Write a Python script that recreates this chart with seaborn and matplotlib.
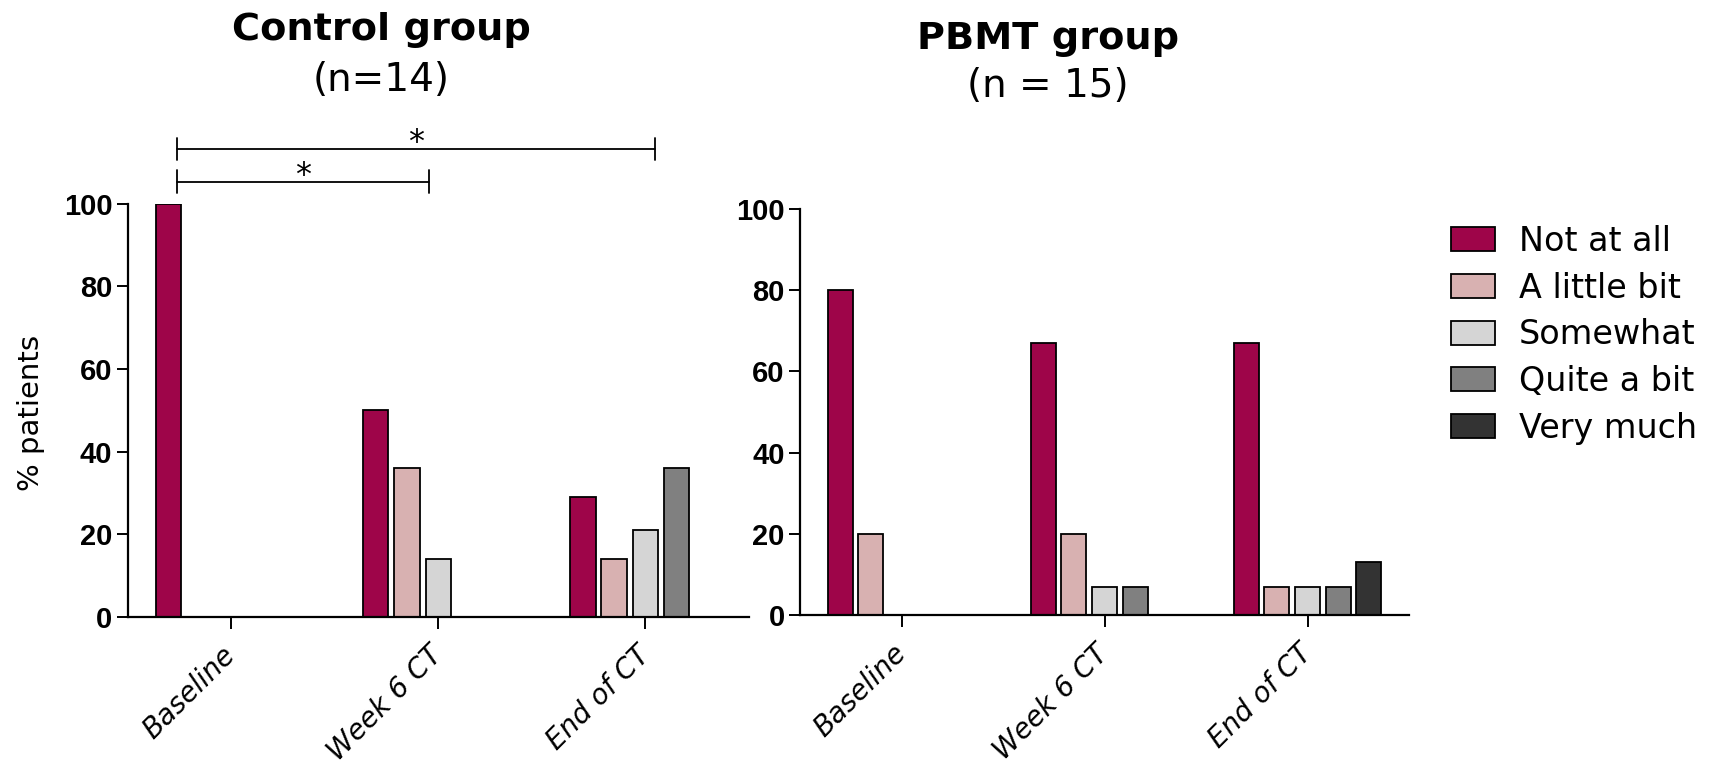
import pandas as pd
import matplotlib.pyplot as plt
import seaborn as sns

# categories
times = ['Baseline', 'Week 6 CT', 'End of CT']
responses = ['Not at all', 'A little bit', 'Somewhat', 'Quite a bit', 'Very much']
colors = ['#9e0549', '#d8b1b1', '#d5d5d5', '#808080', '#333333']

# % patients per response category, one list per time point
control_baseline = [100, 0, 0, 0, 0]
control_week6 = [50, 36, 14, 0, 0]
control_end = [29, 14, 21, 36, 0]

pbmt_baseline = [80, 20, 0, 0, 0]
pbmt_week6 = [67, 20, 7, 7, 0]
pbmt_end = [67, 7, 7, 7, 13]


def to_long(rows):
    recs = []
    for t, vals in zip(times, rows):
        for r, v in zip(responses, vals):
            recs.append({'time': t, 'response': r, 'pct': v})
    return pd.DataFrame(recs)


df_ctrl = to_long([control_baseline, control_week6, control_end])
df_pbmt = to_long([pbmt_baseline, pbmt_week6, pbmt_end])

sns.set_style('ticks')
plt.rcParams['font.family'] = ['DejaVu Sans']
plt.rcParams['text.color'] = 'black'
plt.rcParams['axes.edgecolor'] = 'black'
plt.rcParams['xtick.color'] = 'black'
plt.rcParams['ytick.color'] = 'black'

fig = plt.figure(figsize=(17.16, 7.65), dpi=100)
ax1 = fig.add_axes([0.0744, 0.1935, 0.362, 0.540])
ax2 = fig.add_axes([0.4662, 0.196, 0.3549, 0.5307])

pal = dict(zip(responses, colors))
for ax, df in [(ax1, df_ctrl), (ax2, df_pbmt)]:
    sns.barplot(data=df, x='time', y='pct', hue='response', order=times,
                hue_order=responses, palette=pal, saturation=1,
                width=0.755, gap=0.185, edgecolor='black', linewidth=1.3,
                errorbar=None, ax=ax)

handles, labels = ax2.get_legend_handles_labels()
for ax in (ax1, ax2):
    if ax.get_legend() is not None:
        ax.get_legend().remove()
    ax.set_xlim(-0.5, 2.5)
    ax.set_ylim(0, 100)
    ax.set_yticks(range(0, 101, 20))
    ax.set_xticks(range(len(times)))
    ax.set_xticklabels(times, rotation=45, ha='right', va='center',
                       rotation_mode='anchor', fontsize=20, style='italic')
    ax.set_xlabel('')
    ax.set_ylabel('')
    sns.despine(ax=ax)
    for s in ['left', 'bottom']:
        ax.spines[s].set_linewidth(1.6)
    ax.tick_params(axis='y', length=8, width=1.4, pad=3)
    ax.tick_params(axis='x', length=8.5, width=1.4, pad=16)
    for lbl in ax.get_yticklabels():
        lbl.set_fontfamily(['Liberation Sans', 'DejaVu Sans'])
        lbl.set_fontweight('bold')
        lbl.set_fontsize(21)

fig.text(31 / 1716, 1 - 413 / 765, '% patients', rotation=90,
         ha='center', va='center', fontsize=21)

# significance brackets (control group)
for x0, x1, y in [(-0.26, 0.957, 105.4), (-0.26, 2.045, 113.3)]:
    ax1.plot([x0, x1], [y, y], color='black', lw=1.3, clip_on=False)
    ax1.plot([x0, x0], [y - 2.7, y + 2.7], color='black', lw=1.3, clip_on=False)
    ax1.plot([x1, x1], [y - 2.7, y + 2.7], color='black', lw=1.3, clip_on=False)
    ax1.text((x0 + x1) / 2, y - 0.6, '*', ha='center', va='baseline',
             fontsize=23, clip_on=False)

# titles
fig.text(381 / 1716, 1 - 40 / 765, 'Control group', ha='center',
         va='baseline', fontsize=27.5, fontweight='bold')
fig.text(381 / 1716, 1 - 91 / 765, '(n=14)', ha='center',
         va='baseline', fontsize=28)
fig.text(1048 / 1716, 1 - 49 / 765, 'PBMT group', ha='center',
         va='baseline', fontsize=27.5, fontweight='bold')
fig.text(1048 / 1716, 1 - 97 / 765, '(n = 15)', ha='center',
         va='baseline', fontsize=28)

fig.legend(handles, labels, loc='upper left',
           bbox_to_anchor=(1451 / 1716, 1 - 225 / 765), frameon=False,
           fontsize=24, handlelength=1.32, handleheight=0.72,
           handletextpad=0.72, labelspacing=0.41, borderpad=0,
           borderaxespad=0)

fig.savefig('out.png', dpi=100)
